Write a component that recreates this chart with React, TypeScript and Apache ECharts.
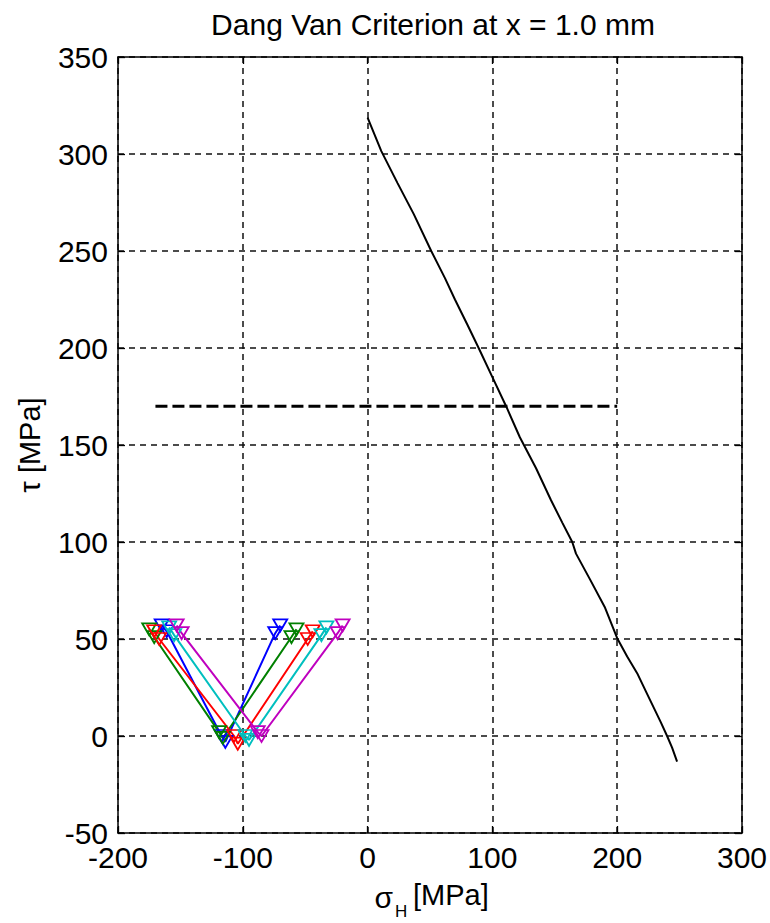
import React, { useEffect, useRef } from "react";
import * as echarts from "echarts";

const titleText = "Dang Van Criterion at x = 1.0 mm";
const yName = "τ [MPa]";
const xTicks = { min: -200, max: 300, interval: 100 };
const yTicks = { min: -50, max: 350, interval: 50 };

// Black solid line (sigma_H, tau)
const blackLine: [number, number][] = [
  [0, 318.7], [11, 301.5], [24, 285], [37, 269], [51, 250], [62, 236], [70, 225],
  [80, 212], [89, 200], [100, 185], [111, 170], [122, 154], [135, 138], [147, 121.5],
  [156, 110], [164, 100], [167, 94], [178, 81], [190, 66.5], [200, 50.4], [208, 41],
  [216, 32.4], [223, 23], [229, 15], [235, 7], [240, 0], [244, -6], [248, -13.2],
];

// Dashed horizontal line
const dashedLine: [number, number][] = [[-170, 170], [200, 170]];

// V-shaped load paths
const bluePath: [number, number][] = [
  [-165, 57], [-161, 54], [-117, 0], [-114, -3], [-74, 53], [-70, 57],
];
const greenPath: [number, number][] = [
  [-175, 55], [-171, 51], [-119, 2], [-116, -1], [-61, 51], [-57, 55],
];
const redPath: [number, number][] = [
  [-171, 54], [-167, 50], [-107, 0], [-104, -4], [-48, 50], [-44, 54],
];
const cyanPath: [number, number][] = [
  [-159, 56], [-155, 52], [-98, 0], [-95, -2], [-37, 52], [-33, 56],
];
const magentaPath: [number, number][] = [
  [-153, 57], [-149, 53], [-88, 2], [-85, 0], [-24, 53], [-20, 57],
];

const vPaths = [
  { data: bluePath, color: "#0000FF" },
  { data: greenPath, color: "#008000" },
  { data: redPath, color: "#FF0000" },
  { data: cyanPath, color: "#00BFBF" },
  { data: magentaPath, color: "#BF00BF" },
];

const FONT = "'Liberation Sans', Arial, sans-serif";

export default function App() {
  const ref = useRef<HTMLDivElement>(null);
  useEffect(() => {
    if (!ref.current) return;
    const chart = echarts.init(ref.current, null, { renderer: "svg" });
    const gridLine = { show: true, lineStyle: { color: "#111", width: 1.5, type: [6, 5] as any } };
    const axisLine = { show: true, onZero: false, lineStyle: { color: "#000", width: 1.5 } };
    const axisTick = { show: true, inside: true, length: 7, lineStyle: { color: "#000", width: 1.3 } };
    const option: any = {
      animation: false,
      backgroundColor: "#fff",
      title: {
        text: titleText,
        left: 428,
        textAlign: "center",
        top: 4,
        textStyle: { fontFamily: FONT, fontSize: 30, fontWeight: "normal", color: "#000" },
      },
      grid: { left: 118, right: 24, top: 57, bottom: 90, containLabel: false },
      xAxis: [
        {
          type: "value", ...xTicks, position: "bottom",
          axisLine, axisTick,
          axisLabel: { fontFamily: FONT, fontSize: 30, color: "#000", margin: 9 },
          splitLine: gridLine,
        },
        {
          type: "value", ...xTicks, position: "top",
          axisLine, axisTick,
          axisLabel: { show: false },
          splitLine: { show: false },
        },
      ],
      yAxis: [
        {
          type: "value", ...yTicks, position: "left",
          name: yName, nameLocation: "middle", nameGap: 74, nameRotate: 90,
          nameTextStyle: { fontFamily: FONT, fontSize: 29, color: "#000" },
          axisLine, axisTick,
          axisLabel: { fontFamily: FONT, fontSize: 30, color: "#000", margin: 10 },
          splitLine: gridLine,
        },
        {
          type: "value", ...yTicks, position: "right",
          axisLine, axisTick,
          axisLabel: { show: false },
          splitLine: { show: false },
        },
      ],
      graphic: [
        { type: "text", x: 393, y: 897, style: { text: "σ", fontFamily: FONT, fontSize: 30, fill: "#000", align: "right", verticalAlign: "middle" } },
        { type: "text", x: 395, y: 911, style: { text: "H", fontFamily: FONT, fontSize: 17, fill: "#000", align: "left", verticalAlign: "middle" } },
        { type: "text", x: 413, y: 895, style: { text: "[MPa]", fontFamily: FONT, fontSize: 29, fill: "#000", align: "left", verticalAlign: "middle" } },
      ],
      series: [
        ...vPaths.map((p) => ({
          type: "line",
          data: p.data,
          xAxisIndex: 0, yAxisIndex: 0,
          symbol: "triangle", symbolRotate: 180, symbolSize: [14, 12],
          showAllSymbol: true,
          lineStyle: { color: p.color, width: 2 },
          itemStyle: { color: "rgba(0,0,0,0)", borderColor: p.color, borderWidth: 1.8 },
          silent: true, z: 3,
        })),
        {
          type: "line", data: blackLine, xAxisIndex: 0, yAxisIndex: 0,
          symbol: "none", lineStyle: { color: "#000", width: 2 }, silent: true, z: 3,
        },
        {
          type: "line", data: dashedLine, xAxisIndex: 0, yAxisIndex: 0,
          symbol: "none", lineStyle: { color: "#000", width: 3, type: [12, 5] }, silent: true, z: 3,
        },
      ],
    };
    chart.setOption(option);
    return () => chart.dispose();
  }, []);
  return (
    <div
      ref={ref}
      style={{ position: "fixed", left: 0, top: 0, width: 770, height: 923, background: "#fff" }}
    />
  );
}
